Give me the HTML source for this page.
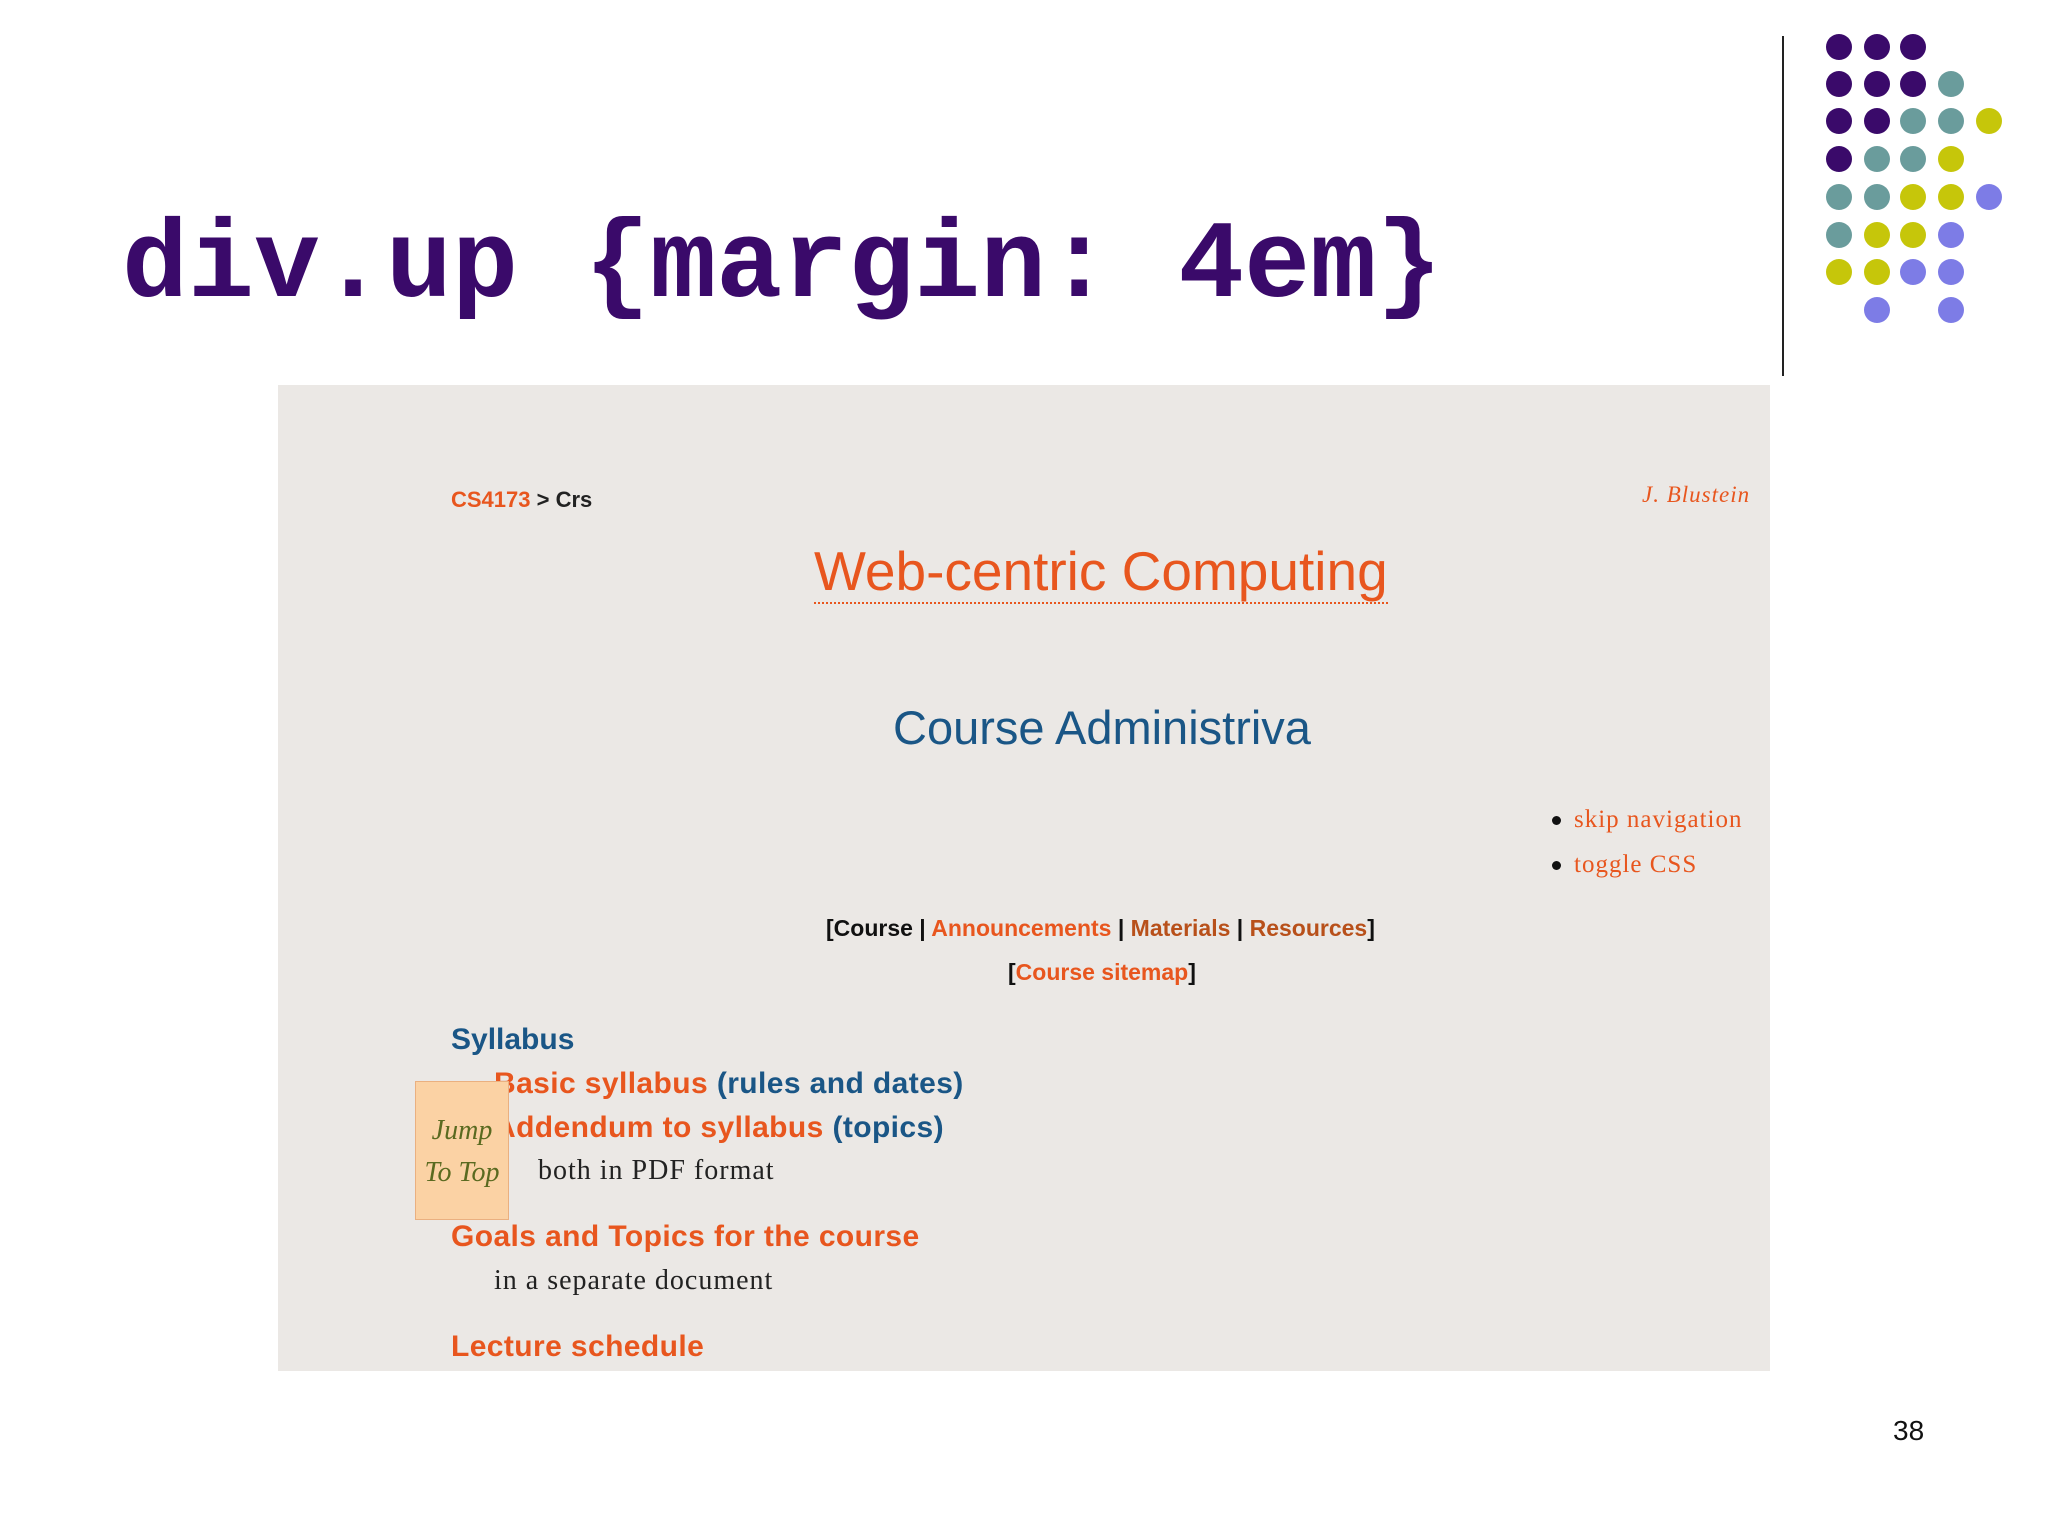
<!DOCTYPE html>
<html><head><meta charset="utf-8"><style>
body{margin:0;width:2048px;height:1536px;background:#fff;position:relative;overflow:hidden;font-family:"Liberation Sans",sans-serif}
.a{position:absolute;white-space:nowrap}
.d{position:absolute;width:26px;height:26px;border-radius:50%}
.P{background:#3a0a6a}.T{background:#6a9c9c}.Y{background:#c6c60a}.L{background:#7d7ce6}
.o{color:#e8561e}.b{color:#1a5686}
.s{font-family:"Liberation Serif",serif;letter-spacing:1px}
</style></head><body>
<div class="a" style="left:122px;top:208px;font-family:'Liberation Mono',monospace;font-weight:bold;font-size:110px;line-height:120px;color:#3a0a6a">div.up {margin: 4em}</div>
<div class="a" style="left:1782px;top:36px;width:2px;height:340px;background:#222"></div>
<div id="dots"></div>
<div class="a" style="left:278px;top:385px;width:1492px;height:986px;background:#ebe8e5"></div>
<div class="a" style="left:451px;top:487px;font-size:22px;line-height:26px;color:#222;font-weight:bold"><span class="o">CS4173</span> &gt; Crs</div>
<div class="a s o" style="left:1642px;top:482px;font-size:23px;font-style:italic;line-height:26px">J. Blustein</div>
<div class="a o" style="left:814px;top:540px;font-size:55px;line-height:62px;border-bottom:2px dotted #e8561e">Web-centric Computing</div>
<div class="a b" style="left:893px;top:700px;font-size:47px;line-height:56px">Course Administriva</div>
<div class="a" style="left:1552px;top:816px;width:9px;height:9px;border-radius:50%;background:#111"></div>
<div class="a" style="left:1552px;top:861px;width:9px;height:9px;border-radius:50%;background:#111"></div>
<div class="a s o" style="left:1574px;top:806px;font-size:25px;line-height:28px">skip navigation</div>
<div class="a s o" style="left:1574px;top:851px;font-size:25px;line-height:28px">toggle CSS</div>
<div class="a" style="left:826px;top:914px;font-size:23px;line-height:28px;color:#111;font-weight:bold">[Course | <span class="o">Announcements</span> | <span style="color:#b8501a">Materials</span> | <span style="color:#b8501a">Resources</span>]</div>
<div class="a" style="left:1008px;top:958px;font-size:23px;line-height:28px;color:#111;font-weight:bold">[<span class="o">Course sitemap</span>]</div>
<div class="a b" style="left:451px;top:1022px;font-size:30px;line-height:36px;font-weight:bold">Syllabus</div>
<div class="a" style="left:494px;top:1066px;font-size:30px;line-height:36px;font-weight:bold;letter-spacing:0.4px"><span class="o">Basic syllabus</span> <span class="b">(rules and dates)</span></div>
<div class="a" style="left:494px;top:1110px;font-size:30px;line-height:36px;font-weight:bold;letter-spacing:0.4px"><span class="o">Addendum to syllabus</span> <span class="b">(topics)</span></div>
<div class="a s" style="left:538px;top:1155px;font-size:28px;line-height:32px;color:#222">both in PDF format</div>
<div class="a s" style="left:415px;top:1081px;width:94px;height:139px;background:#fbd2a4;border:1px solid #eab080;box-sizing:border-box;color:#5a6a20;font-style:italic;font-size:28px;line-height:42px;text-align:center;padding-top:28px;white-space:normal;letter-spacing:0">Jump<br>To Top</div>
<div class="a o" style="left:451px;top:1219px;font-size:30px;line-height:36px;font-weight:bold;letter-spacing:0.4px">Goals and Topics for the course</div>
<div class="a s" style="left:494px;top:1265px;font-size:28px;line-height:32px;color:#222">in a separate document</div>
<div class="a o" style="left:451px;top:1329px;font-size:30px;line-height:36px;font-weight:bold;letter-spacing:0.4px">Lecture schedule</div>
<div class="a" style="left:1893px;top:1415px;font-size:28px;line-height:32px;color:#111">38</div>
<script>
var rows=["PPP","PPPT","PPTTY","PTTY","TTYYL","TYYL","YYLL","_L_L"];
var xs=[1839,1877,1913,1951,1989],ys=[47,84,121,159,197,235,272,310],h="";
rows.forEach(function(r,i){for(var j=0;j<r.length;j++){if(r[j]!="_")h+='<div class="d '+r[j]+'" style="left:'+(xs[j]-13)+'px;top:'+(ys[i]-13)+'px"></div>';}});
document.getElementById("dots").innerHTML=h;
</script>
</body></html>
